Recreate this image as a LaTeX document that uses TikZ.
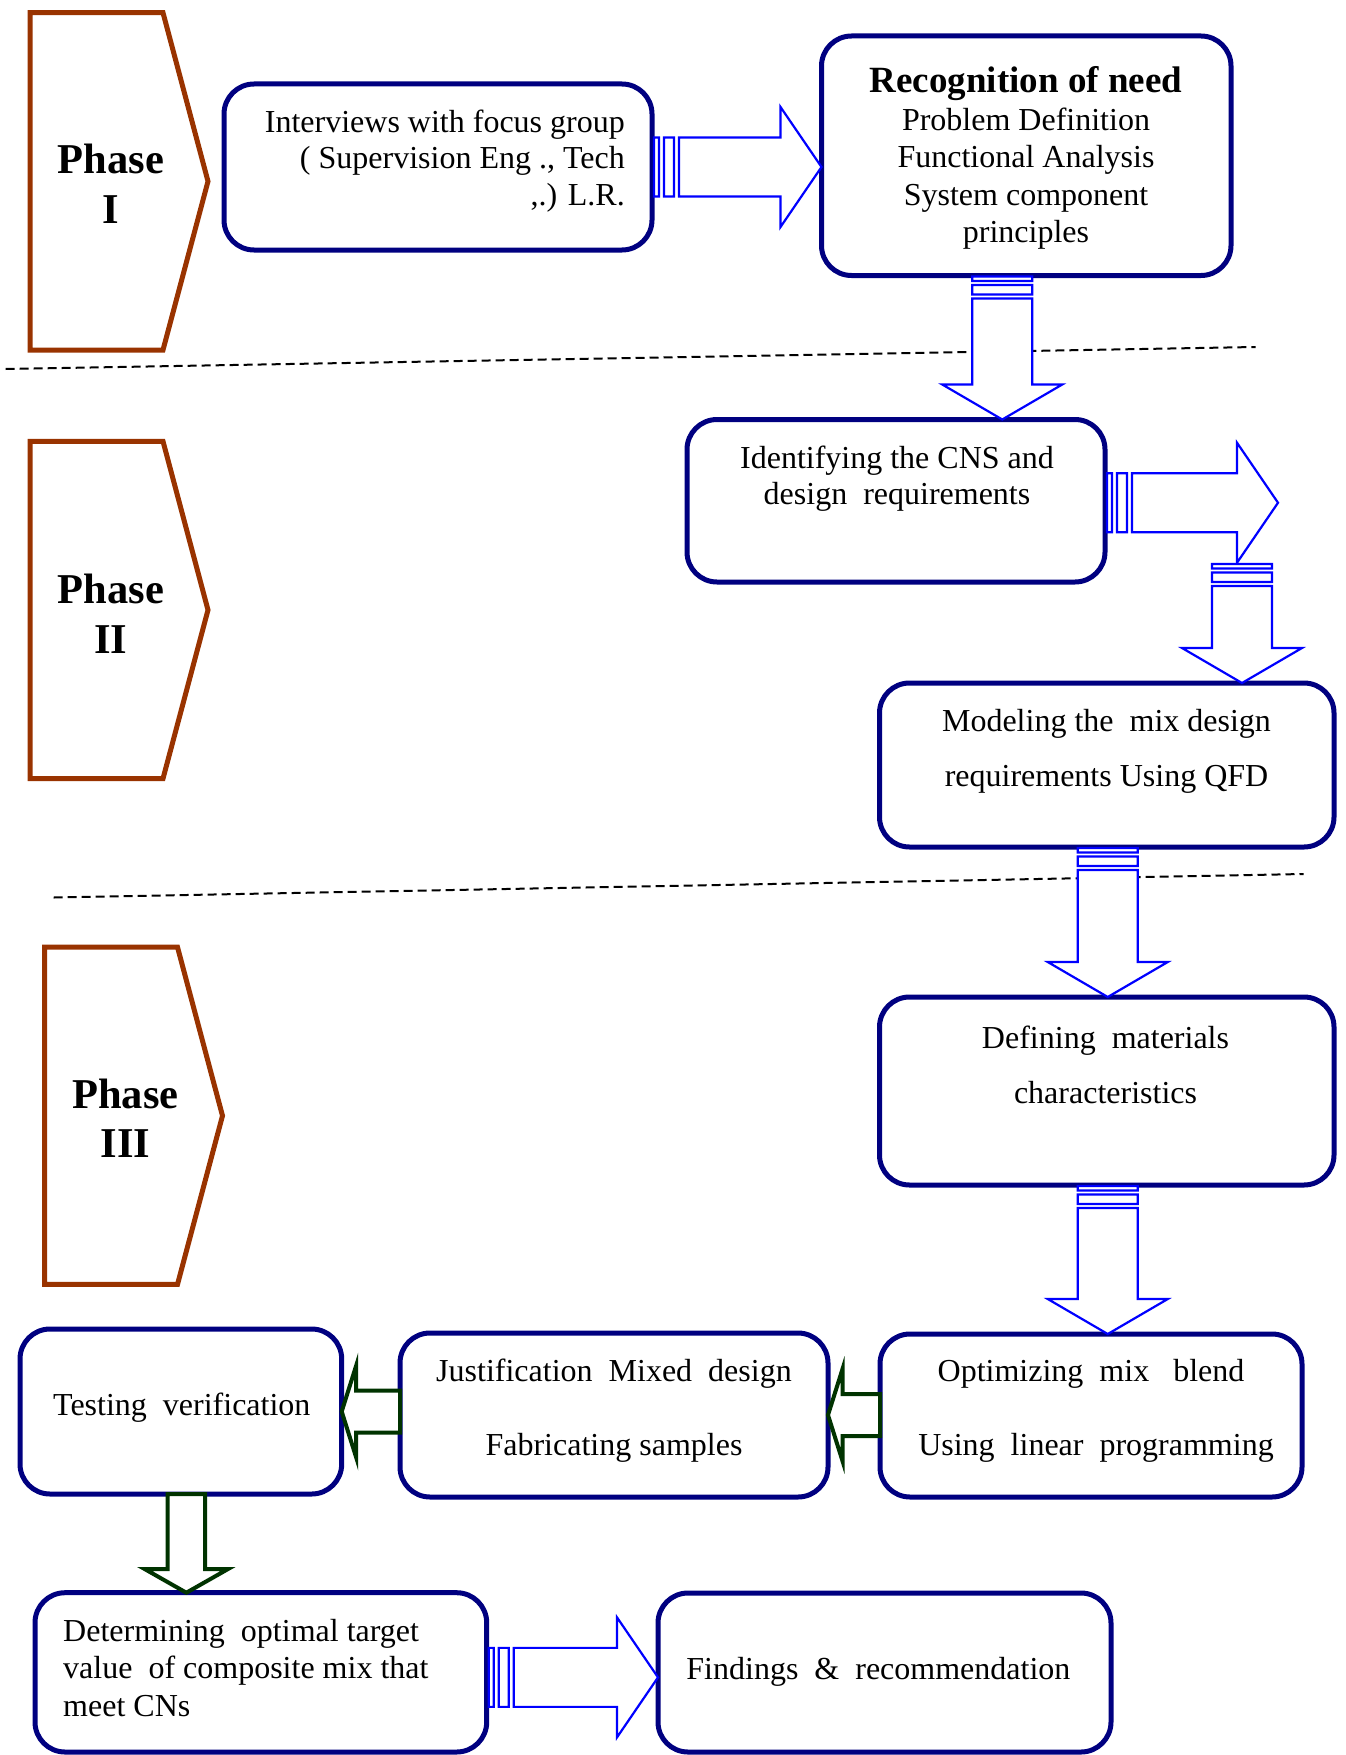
\documentclass[tikz,border=0pt]{standalone}
\usepackage{fontspec}
\setmainfont{Liberation Serif}
\usetikzlibrary{calc}

\definecolor{boxnavy}{RGB}{0,0,128}
\definecolor{arrowblue}{RGB}{0,0,255}
\definecolor{phasebrown}{RGB}{153,51,0}
\definecolor{stepgreen}{RGB}{0,51,0}

% wide hollow arrow pointing right, with two bands at its tail
\newcommand\stripedright[2]{%
  \draw[bluearrow] let \p1=(#1), \p2=(#2) in
    (\x1+2pt,\y1-29.5pt) rectangle (\x1+7pt,\y1+29.5pt)
    (\x1+12pt,\y1-29.5pt) rectangle (\x1+22pt,\y1+29.5pt)
    (\x1+27pt,\y1+29.5pt) -- (\x2-41pt,\y1+29.5pt) -- (\x2-41pt,\y1+60pt)
    -- (\x2,\y1) -- (\x2-41pt,\y1-60pt) -- (\x2-41pt,\y1-29.5pt)
    -- (\x1+27pt,\y1-29.5pt) -- cycle;}

% wide hollow arrow pointing down, with two bands at its tail
\newcommand\stripeddown[2]{%
  \draw[bluearrow] let \p1=(#1), \p2=(#2) in
    (\x1-30pt,\y1-1pt) rectangle (\x1+30pt,\y1-5.5pt)
    (\x1-30pt,\y1-9.5pt) rectangle (\x1+30pt,\y1-19pt)
    (\x1-30pt,\y1-23pt) -- (\x1-30pt,\y2+35pt) -- (\x1-60pt,\y2+35pt)
    -- (\x1,\y2) -- (\x1+60pt,\y2+35pt) -- (\x1+30pt,\y2+35pt)
    -- (\x1+30pt,\y1-23pt) -- cycle;}

% small hollow arrow pointing left (tail, tip)
\newcommand\hollowleft[2]{%
  \draw[greenarrow] let \p1=(#1), \p2=(#2) in
    (\x1,\y2+21pt) -- (\x2+14.5pt,\y2+21pt) -- (\x2+14.5pt,\y2+46pt) -- (\x2,\y2)
    -- (\x2+14.5pt,\y2-46pt) -- (\x2+14.5pt,\y2-21pt) -- (\x1,\y2-21pt) -- cycle;}

% small hollow arrow pointing down (tail, tip)
\newcommand\hollowdown[2]{%
  \draw[greenarrow] let \p1=(#1), \p2=(#2) in
    (\x1-18.7pt,\y1) -- (\x1-18.7pt,\y2+23.7pt) -- (\x1-41.7pt,\y2+23.7pt) -- (\x1,\y2)
    -- (\x1+41.7pt,\y2+23.7pt) -- (\x1+18.7pt,\y2+23.7pt) -- (\x1+18.7pt,\y1) -- cycle;}

\begin{document}
\begin{tikzpicture}[x=1pt,y=-1pt,
  box/.style={draw=boxnavy, line width=5pt, rounded corners=30pt, fill=white,
    outer sep=0pt, inner sep=0pt},
  phase/.style={draw=phasebrown, line width=5pt, line join=miter},
  phasetxt/.style={font=\fontsize{42.5}{49}\bfseries\selectfont, inner sep=0pt, anchor=base},
  txt/.style={font=\fontsize{32}{37}\selectfont, inner sep=0pt, anchor=base},
  headtxt/.style={font=\fontsize{37}{42}\bfseries\selectfont, inner sep=0pt, anchor=base},
  bluearrow/.style={draw=arrowblue, fill=white, line width=2.2pt, line join=miter},
  greenarrow/.style={draw=stepgreen, fill=white, line width=4pt, line join=miter},
  sep/.style={draw=black, line width=2pt, dash pattern=on 9pt off 5pt}]

\useasboundingbox (0,0) rectangle (1345,1755);

% separators between the phases
\draw[sep] (5.6,369) -- (1255.5,347);
\draw[sep] (53.7,897.5) -- (1303.6,874);

% phase markers
\draw[phase] (30,12.7) -- (163,12.7) -- (208,181.35) -- (163,350) -- (30,350) -- cycle;
\draw[phase] (30,441.3) -- (163,441.3) -- (208,610) -- (163,778.6) -- (30,778.6) -- cycle;
\draw[phase] (44.5,947.1) -- (177.5,947.1) -- (222.5,1115.75) -- (177.5,1284.4) -- (44.5,1284.4) -- cycle;
\node[phasetxt] (p1a) at (110.8,174) {Phase};
\node[phasetxt] (p1b) at (110.8,223.3) {I};
\node[phasetxt] (p2a) at (110.8,603.7) {Phase};
\node[phasetxt] (p2b) at (110.8,653) {II};
\node[phasetxt] (p3a) at (125.3,1108.4) {Phase};
\node[phasetxt] (p3b) at (125.3,1157.7) {III};

% process boxes
\node[box, minimum width=428pt,   minimum height=166pt]   (b1)  at (438,167) {};
\node[box, minimum width=409.5pt, minimum height=239.5pt] (b2)  at (1026.25,155.75) {};
\node[box, minimum width=418pt,   minimum height=162.5pt] (b3)  at (896,500.75) {};
\node[box, minimum width=454.5pt, minimum height=164pt]   (b4)  at (1106.75,765) {};
\node[box, minimum width=454.5pt, minimum height=188pt]   (b5)  at (1106.75,1091) {};
\node[box, minimum width=422pt,   minimum height=163pt]   (b6)  at (1091,1415.5) {};
\node[box, minimum width=428pt,   minimum height=164pt]   (b7)  at (614,1415) {};
\node[box, minimum width=321.7pt, minimum height=165pt]   (b8)  at (180.85,1411.5) {};
\node[box, minimum width=451.7pt, minimum height=159.3pt] (b9)  at (260.85,1672.35) {};
\node[box, minimum width=453pt,   minimum height=159pt]   (b10) at (884.5,1672.5) {};

% free ends of the arrows on the right
\coordinate (c3) at (1278,503);
\coordinate (c4) at (1242,563);

% connectors
\stripedright{b1.east}{b2.west}
\stripeddown{$(b2.south)+(-24,0)$}{b3.north}
\stripedright{$(b3.east)+(0,2)$}{c3}
\stripeddown{c4}{b4.north}
\stripeddown{$(b4.south)+(1,0)$}{b5.north}
\stripeddown{$(b5.south)+(1,0)$}{b6.north}
\hollowleft{b6.west}{b7.east}
\hollowleft{b7.west}{b8.east}
\hollowdown{$(b8.south)+(5.5,0)$}{b9.north}
\stripedright{$(b9.east)+(0,5)$}{b10.west}

% box texts
\node[txt, anchor=base east] (t1a) at (625,132.3) {Interviews with focus group};
\node[txt, anchor=base east] (t1b) at (625,168.3) {( Supervision Eng ., Tech};
\node[txt, anchor=base east] (t1c) at (625,205) {,.) L.R.};

\node[headtxt] (t2a) at (1026,93) {Recognition of need};
\node[txt] (t2b) at (1026,131) {Problem Definition};
\node[txt] (t2c) at (1026,168) {Functional Analysis};
\node[txt] (t2d) at (1026,205) {System component};
\node[txt] (t2e) at (1026,242) {principles};

\node[txt] (t3a) at (897,468) {Identifying the CNS and};
\node[txt] (t3b) at (897,504) {design\ \ requirements};

\node[txt] (t4a) at (1106.5,731) {Modeling the\ \ mix design};
\node[txt] (t4b) at (1106.5,786) {requirements Using QFD};

\node[txt] (t5a) at (1105.5,1048) {Defining\ \ materials};
\node[txt] (t5b) at (1105.5,1103) {characteristics};

\node[txt] (t6a) at (1091,1381.7) {Optimizing\ \ mix\ \ \ blend};
\node[txt] (t6b) at (1096,1455) {Using\ \ linear\ \ programming};

\node[txt] (t7a) at (614,1381.7) {Justification\ \ Mixed\ \ design};
\node[txt] (t7b) at (614,1455) {Fabricating samples};

\node[txt] (t8) at (181.8,1415) {Testing\ \ verification};

\node[txt, anchor=base west] (t9a) at (63,1641.7) {Determining\ \ optimal target};
\node[txt, anchor=base west] (t9b) at (63,1678.3) {value\ \ of composite mix that};
\node[txt, anchor=base west] (t9c) at (63,1716) {meet CNs};

\node[txt] (t10) at (878.4,1679) {Findings\ \ \&\ \ recommendation};
\end{tikzpicture}
\end{document}
